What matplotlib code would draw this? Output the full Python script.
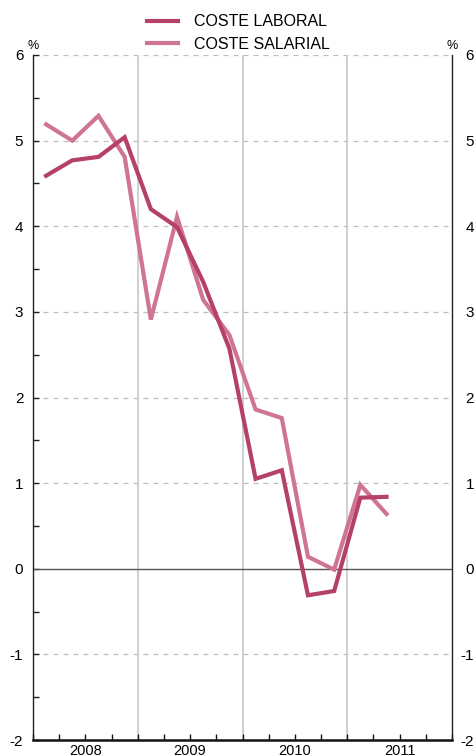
import matplotlib
matplotlib.use("Agg")
import matplotlib.pyplot as plt
import matplotlib.transforms as mtransforms
import numpy as np

plt.rcParams['font.family'] = ['Liberation Sans', 'DejaVu Sans']
plt.rcParams['axes.unicode_minus'] = False

years = ["2008", "2009", "2010", "2011"]
quarters = ["I 08", "II 08", "III 08", "IV 08", "I 09", "II 09", "III 09", "IV 09",
            "I 10", "II 10", "III 10", "IV 10", "I 11", "II 11"]
coste_laboral = [4.59, 4.77, 4.81, 5.04, 4.20, 3.99, 3.35, 2.57,
                 1.05, 1.15, -0.31, -0.26, 0.83, 0.84]
coste_salarial = [5.19, 5.00, 5.29, 4.81, 2.91, 4.11, 3.14, 2.73,
                  1.86, 1.76, 0.14, -0.01, 0.98, 0.64]

c_lab = "#b5406a"
c_sal = "#cf7592"

fig = plt.figure(figsize=(4.76, 7.56), dpi=100)
ax = fig.add_axes([33/476, 16/756, (452-33)/476, (740-55)/756])

x = np.arange(len(quarters)) + 0.5
ax.set_xlim(0, 16)
ax.set_ylim(-2, 6)

# grid
for yv in range(-1, 7):
    if yv == 0:
        continue
    ax.axhline(yv, color="#bdbdbd", lw=0.9, ls=(0, (4, 4)), zorder=1)
ax.axhline(0, color="#555555", lw=1.0, zorder=2)
for xv in [4, 8, 12]:
    ax.axvline(xv, color="#c8c8c8", lw=1.2, zorder=1)

ax.plot(x, coste_laboral, color=c_lab, lw=3, label="COSTE LABORAL", zorder=4,
        solid_joinstyle="miter")
ax.plot(x, coste_salarial, color=c_sal, lw=3, label="COSTE SALARIAL", zorder=3,
        solid_joinstyle="miter")

# spines
ax.spines['top'].set_visible(False)
for s in ['left', 'right']:
    ax.spines[s].set_color("#222222")
    ax.spines[s].set_linewidth(1.0)
ax.spines['bottom'].set_color("#111111")
ax.spines['bottom'].set_linewidth(1.8)

ax.set_yticks(range(-2, 7))
ax.set_yticks(np.arange(-2, 6.01, 0.5), minor=True)
ax.tick_params(axis='y', which='both', direction='in', left=True, right=True,
               labelleft=True, labelright=False, labelsize=11, length=4, width=1,
               color="#222222", pad=7)

# right-hand labels via twin axis, right-aligned near the figure edge
axr = ax.twinx()
axr.set_ylim(-2, 6)
axr.set_yticks(range(-2, 7))
axr.tick_params(axis='y', which='both', length=0, labelsize=11, pad=16)
for lbl in axr.get_yticklabels():
    lbl.set_horizontalalignment('right')
for s in axr.spines.values():
    s.set_visible(False)

ax.set_xticks(range(0, 17))
ax.set_xticklabels([])
ax.tick_params(axis='x', which='major', direction='in', length=4, width=1, color="#111111")

trans = mtransforms.blended_transform_factory(ax.transData, ax.transAxes)
for i, yr in enumerate(years):
    ax.text(4 * i + 2, -0.006, yr, transform=trans, ha='center', va='top', fontsize=10.5,
            clip_on=False)

ax.text(0.0, 1.005, "%", transform=ax.transAxes, ha='center', va='bottom', fontsize=9)
ax.text(1.0, 1.005, "%", transform=ax.transAxes, ha='center', va='bottom', fontsize=9)

fig.legend(loc='upper center', bbox_to_anchor=(0.5, 1.0), frameon=False, fontsize=11.5,
           handlelength=2.0, handletextpad=0.95, labelspacing=0.45)

fig.savefig("out.png", dpi=100)
